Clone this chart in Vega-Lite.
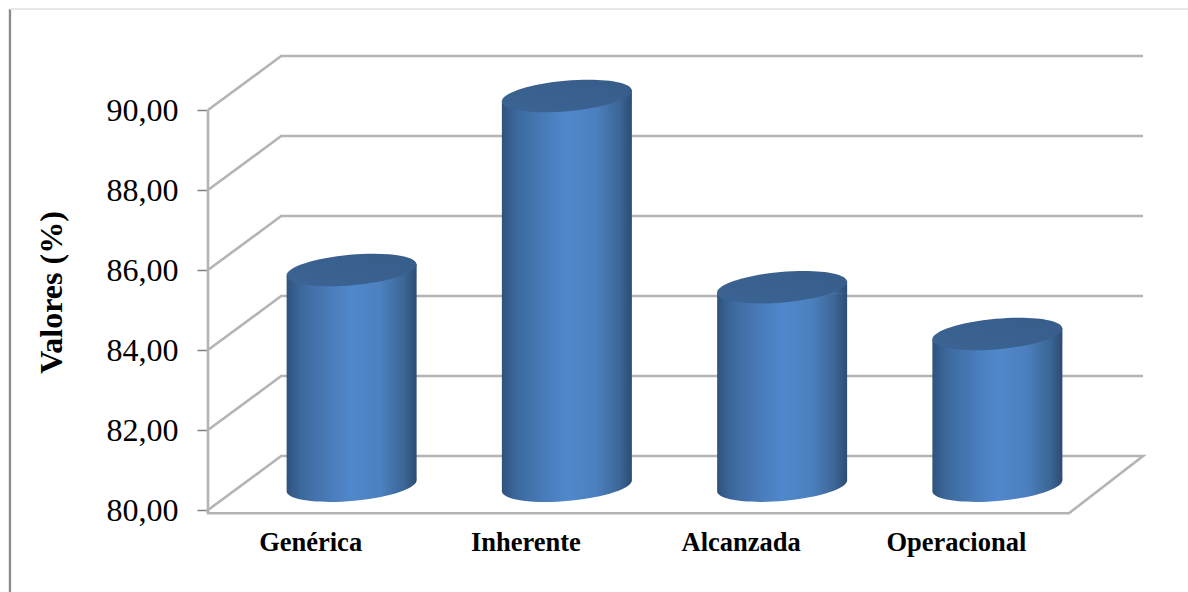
{
  "$schema": "https://vega.github.io/schema/vega-lite/v6.json",
  "autosize": {"type": "none"},
  "width": 935,
  "height": 470,
  "padding": {"left": 208, "top": 50, "right": 45, "bottom": 72},
  "background": "white",
  "config": {"view": {"stroke": null}},
  "datasets": {
    "frame": [
      {"seg": "g80", "kind": "grid", "step": 0, "pos": 0, "val": 80},
      {"seg": "g80", "kind": "grid", "step": 1, "pos": 0.34, "val": 81.35},
      {"seg": "g80", "kind": "grid", "step": 2, "pos": 4.344, "val": 81.35},
      {"seg": "g80", "kind": "grid", "step": 3, "pos": 4.0, "val": 79.92},
      {"seg": "g80", "kind": "grid", "step": 4, "pos": 0, "val": 79.92},
      {"seg": "g80", "kind": "grid", "step": 5, "pos": 0, "val": 80},
      {"seg": "g82", "kind": "grid", "step": 0, "pos": 0, "val": 82},
      {"seg": "g82", "kind": "grid", "step": 1, "pos": 0.34, "val": 83.35},
      {"seg": "g82", "kind": "grid", "step": 2, "pos": 4.344, "val": 83.35},
      {"seg": "g84", "kind": "grid", "step": 0, "pos": 0, "val": 84},
      {"seg": "g84", "kind": "grid", "step": 1, "pos": 0.34, "val": 85.35},
      {"seg": "g84", "kind": "grid", "step": 2, "pos": 4.344, "val": 85.35},
      {"seg": "g86", "kind": "grid", "step": 0, "pos": 0, "val": 86},
      {"seg": "g86", "kind": "grid", "step": 1, "pos": 0.34, "val": 87.35},
      {"seg": "g86", "kind": "grid", "step": 2, "pos": 4.344, "val": 87.35},
      {"seg": "g88", "kind": "grid", "step": 0, "pos": 0, "val": 88},
      {"seg": "g88", "kind": "grid", "step": 1, "pos": 0.34, "val": 89.35},
      {"seg": "g88", "kind": "grid", "step": 2, "pos": 4.344, "val": 89.35},
      {"seg": "g90", "kind": "grid", "step": 0, "pos": 0, "val": 90},
      {"seg": "g90", "kind": "grid", "step": 1, "pos": 0.34, "val": 91.35},
      {"seg": "g90", "kind": "grid", "step": 2, "pos": 4.344, "val": 91.35},
      {"seg": "axis", "kind": "grid", "step": 0, "pos": 0, "val": 79.92},
      {"seg": "axis", "kind": "grid", "step": 1, "pos": 0, "val": 90},
      {"seg": "left", "kind": "left", "step": 0, "pos": -0.92, "val": 92.525},
      {"seg": "left", "kind": "left", "step": 1, "pos": -0.92, "val": 77.95},
      {"seg": "top", "kind": "top", "step": 0, "pos": -0.92, "val": 92.525},
      {"seg": "top", "kind": "top", "step": 1, "pos": 4.553, "val": 92.525}
    ],
    "bars": [
      {"categoria": "Genérica", "valor": 85.4},
      {"categoria": "Inherente", "valor": 89.75},
      {"categoria": "Alcanzada", "valor": 84.97},
      {"categoria": "Operacional", "valor": 83.8}
    ]
  },
  "layer": [
    {
      "data": {"name": "frame"},
      "mark": {"type": "line", "strokeJoin": "miter", "interpolate": "linear"},
      "encoding": {
        "x": {"field": "pos", "type": "quantitative", "scale": {"domain": [0, 4], "range": [0, 861], "nice": false, "zero": false}, "axis": null},
        "y": {
          "field": "val",
          "type": "quantitative",
          "scale": {"domain": [79.75, 91.5], "nice": false, "zero": false},
          "axis": {
            "title": "Valores (%)",
            "titleFont": "Liberation Serif",
            "titleFontSize": 32,
            "titleFontWeight": "bold",
            "titleColor": "#000000",
            "titleX": -140,
            "titleY": 242,
            "titleAngle": -90,
            "values": [80, 82, 84, 86, 88, 90],
            "labelExpr": "replace(format(datum.value, '.2f'), '.', ',')",
            "labelFont": "Liberation Serif",
            "labelFontSize": 32,
            "labelColor": "#000000",
            "labelPadding": 19,
            "tickSize": 11,
            "tickColor": "#808080",
            "tickWidth": 1.5,
            "domain": false,
            "grid": false
          }
        },
        "detail": {"field": "seg"},
        "order": {"field": "step"},
        "color": {"field": "kind", "type": "nominal", "legend": null, "scale": {"domain": ["grid", "left", "top"], "range": ["#b4b4b4", "#8a8a8a", "#e8e8e8"]}},
        "strokeWidth": {"field": "kind", "type": "nominal", "legend": null, "scale": {"domain": ["grid", "left", "top"], "range": [2.6, 2, 1.5]}}
      }
    },
    {
      "data": {"name": "bars"},
      "mark": {
        "type": "point",
        "filled": true,
        "opacity": 1,
        "size": 16900,
        "shape": "M-1,-0.1 L1,-0.1 A1.004,0.235,-5.1,0,1,-1,0.09 Z",
        "fill": {"gradient": "linear", "x1": 0, "x2": 1, "y1": 0, "y2": 0, "stops": [
          {"offset": 0, "color": "#2f527c"}, {"offset": 0.1, "color": "#3b679c"}, {"offset": 0.3, "color": "#4879b6"},
          {"offset": 0.5, "color": "#5088cc"}, {"offset": 0.72, "color": "#4c80bf"}, {"offset": 0.9, "color": "#3c6797"}, {"offset": 1, "color": "#2c4c74"}
        ]}
      },
      "encoding": {
        "x": {"field": "categoria", "type": "nominal", "sort": null, "scale": {"type": "band", "range": [36, 897]}, "axis": null},
        "y": {"datum": 80, "type": "quantitative", "scale": {"domain": [79.15, 90.9], "nice": false, "zero": false}, "axis": null}
      }
    },
    {
      "data": {"name": "bars"},
      "mark": {
        "type": "bar",
        "size": 130,
        "fill": {"gradient": "linear", "x1": 0, "x2": 1, "y1": 0, "y2": 0, "stops": [
          {"offset": 0, "color": "#2f527c"}, {"offset": 0.1, "color": "#3b679c"}, {"offset": 0.3, "color": "#4879b6"},
          {"offset": 0.5, "color": "#5088cc"}, {"offset": 0.72, "color": "#4c80bf"}, {"offset": 0.9, "color": "#3c6797"}, {"offset": 1, "color": "#2c4c74"}
        ]}
      },
      "encoding": {
        "x": {
          "field": "categoria",
          "type": "nominal",
          "sort": null,
          "scale": {"type": "band", "range": [36, 897]},
          "axis": {
            "title": null,
            "labelAngle": 0,
            "labelFont": "Liberation Serif",
            "labelFontSize": 26.5,
            "labelFontWeight": "bold",
            "labelColor": "#000000",
            "labelOffset": -41,
            "labelPadding": 9,
            "ticks": false,
            "domain": false,
            "grid": false
          }
        },
        "y": {"field": "valor", "type": "quantitative", "scale": {"domain": [79.3, 91.05], "nice": false, "zero": false}, "axis": null},
        "y2": {"datum": 80.3}
      }
    },
    {
      "data": {"name": "bars"},
      "mark": {
        "type": "point",
        "filled": true,
        "opacity": 1,
        "size": 16900,
        "shape": "M-1,0.09 L1,-0.09 L1,0.1 L-1,0.1 Z",
        "fill": {"gradient": "linear", "x1": 0, "x2": 1, "y1": 0, "y2": 0, "stops": [
          {"offset": 0, "color": "#2f527c"}, {"offset": 0.1, "color": "#3b679c"}, {"offset": 0.3, "color": "#4879b6"},
          {"offset": 0.5, "color": "#5088cc"}, {"offset": 0.72, "color": "#4c80bf"}, {"offset": 0.9, "color": "#3c6797"}, {"offset": 1, "color": "#2c4c74"}
        ]}
      },
      "encoding": {
        "x": {"field": "categoria", "type": "nominal", "sort": null, "scale": {"type": "band", "range": [36, 897]}, "axis": null},
        "y": {"field": "valor", "type": "quantitative", "scale": {"domain": [79.15, 90.9], "nice": false, "zero": false}, "axis": null}
      }
    },
    {
      "data": {"name": "bars"},
      "mark": {
        "type": "point",
        "filled": true,
        "opacity": 1,
        "size": 16900,
        "shape": "M-1,0.09 A1.004,0.235,-5.1,0,1,1,-0.09 A1.004,0.235,-5.1,0,1,-1,0.09 Z",
        "fill": {"gradient": "linear", "x1": 0, "x2": 1, "y1": 1, "y2": 0, "stops": [
          {"offset": 0, "color": "#3b6494"}, {"offset": 1, "color": "#375d8a"}
        ]}
      },
      "encoding": {
        "x": {"field": "categoria", "type": "nominal", "sort": null, "scale": {"type": "band", "range": [36, 897]}, "axis": null},
        "y": {"field": "valor", "type": "quantitative", "scale": {"domain": [79.15, 90.9], "nice": false, "zero": false}, "axis": null}
      }
    }
  ],
  "resolve": {"scale": {"x": "independent", "y": "independent", "color": "independent", "strokeWidth": "independent"}, "axis": {"x": "independent", "y": "independent"}}
}
